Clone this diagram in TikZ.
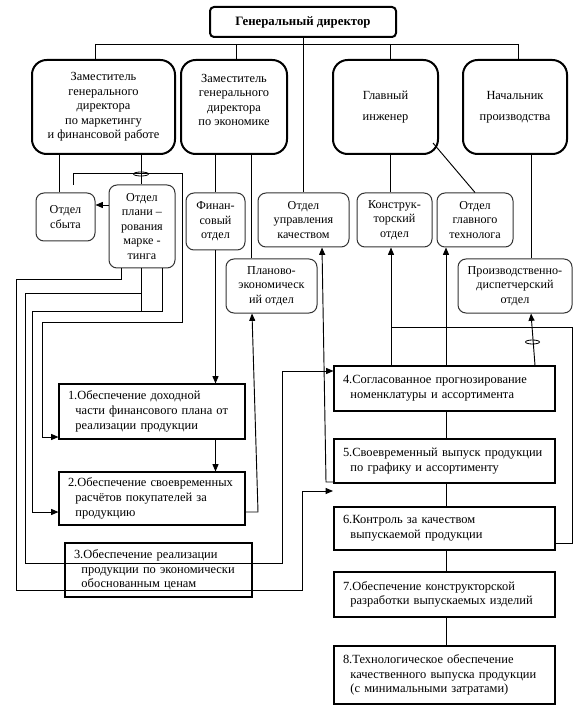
\documentclass[tikz,border=0pt]{standalone}
\usepackage{fontspec}
\setmainfont{Liberation Serif}
\usetikzlibrary{arrows.meta}
\tikzset{
  conn/.style={draw=black, line width=0.7pt},
  arr/.style={conn, -{Triangle[length=5.5pt,width=4.5pt]}},
  ceobox/.style={draw, line width=1.5pt, rounded corners=3pt, align=center, inner sep=0pt,
    font=\bfseries\fontsize{9.6}{11}\selectfont},
  topbox/.style={draw, line width=1.5pt, rounded corners=11pt, align=center, inner sep=0pt,
    font=\fontsize{9.3}{10.9}\selectfont},
  dept/.style={draw=black!80, line width=0.75pt, rounded corners=6pt, align=center, inner sep=0pt,
    font=\fontsize{9.1}{10.9}\selectfont},
  numbox/.style={draw, line width=0.8pt, align=left, inner xsep=6.75pt, inner ysep=0pt,
    font=\fontsize{9.35}{11}\selectfont},
  hop/.style={draw=black, line width=0.6pt},
}
% style, name, left, top, right, bottom, text  (pixel units)
\newcommand\placebox[7]{%
  \pgfmathsetmacro\myW{(#5-#3)*0.75}%
  \pgfmathsetmacro\myH{(#6-#4)*0.75}%
  \node[#1, minimum width=\myW pt, minimum height=\myH pt] (#2) at ({(#3+#5)/2},{(#4+#6)/2}) {#7};}
\newcommand\placenum[6]{%
  \pgfmathsetmacro\myW{(#4-#2)*0.75}%
  \pgfmathsetmacro\myH{(#5-#3)*0.75}%
  \pgfmathsetmacro\myT{(#4-#2)*0.75-13.5}%
  \node[numbox, minimum width=\myW pt, minimum height=\myH pt, text width=\myT pt] (#1) at ({(#2+#4)/2},{(#3+#5)/2}) {#6};}
\newcommand\ind{\hspace*{5.6pt}}
\begin{document}
\begin{tikzpicture}[x=0.75pt,y=-0.75pt]
\useasboundingbox (0,0) rectangle (580,712);

% ---------- nodes ----------
\placebox{ceobox}{ceo}{210}{7}{396}{37}{Генеральный директор}
\placebox{topbox}{dep1}{32}{60}{175}{154}{Заместитель\\генерального\\директора\\по маркетингу\\и финансовой работе}
\placebox{topbox}{dep2}{181}{60}{287}{154}{Заместитель\\генерального\\директора\\по экономике\\\mbox{}}
\placebox{topbox}{chief}{333}{60}{438}{154}{Главный\\[5pt]инженер}
\placebox{topbox}{prod}{463}{60}{567}{154}{Начальник\\[5pt]производства}

\placebox{dept}{sbyt}{36}{193}{95}{241}{Отдел\\сбыта}
\placebox{dept}{plan}{109}{185}{175}{268}{Отдел\\плани –\\рования\\марке -\\тинга}
\placebox{dept}{fin}{186}{193}{245}{250}{Финан-\\совый\\отдел}
\placebox{dept}{qual}{258}{193}{349}{247}{Отдел\\управления\\качеством}
\placebox{dept}{konst}{357}{193}{432}{247}{Конструк-\\торский\\отдел}
\placebox{dept}{tech}{437}{193}{513}{247}{Отдел\\главного\\технолога}
\placebox{dept}{planek}{226}{259}{317}{313}{Планово-\\экономическ\\ий отдел}
\placebox{dept}{disp}{458}{259}{572}{313}{Производственно-\\диспетчерский\\отдел}

\placenum{b1}{59}{384}{245}{439}{1.Обеспечение доходной\\\ind части финансового плана от\\\ind реализации продукции}
\placenum{b2}{59}{472}{245}{525}{2.Обеспечение своевременных\\\ind расчётов покупателей за\\\ind продукцию}
\placenum{b3}{65}{543}{252}{597}{3.Обеспечение реализации\\\ind продукции по экономически\\\ind обоснованным ценам}
\placenum{b4}{334}{366}{555}{411}{4.Согласованное прогнозирование\\\ind номенклатуры и ассортимента}
\placenum{b5}{334}{439}{555}{483}{5.Своевременный выпуск продукции\\\ind по графику и ассортименту}
\placenum{b6}{334}{507}{555}{550}{6.Контроль за качеством\\\ind выпускаемой продукции}
\placenum{b7}{334}{572}{555}{617}{7.Обеспечение конструкторской\\\ind разработки выпускаемых изделий}
\placenum{b8}{334}{646}{555}{704}{8.Технологическое обеспечение\\\ind качественного выпуска продукции\\\ind (с минимальными затратами)}

% ---------- top level ----------
\coordinate (busL) at (95,44);
\coordinate (busR) at (518,44);
\coordinate (bus2) at (236,44);
\coordinate (bus3) at (390,44);
\draw[conn] (busL) -- (busR);
\draw[conn] (busL) -- (busL |- dep1.north);
\draw[conn] (bus2) -- (bus2 |- dep2.north);
\draw[conn] (bus3) -- (bus3 |- chief.north);
\draw[conn] (busR) -- (busR |- prod.north);
\draw[conn] (ceo.south) -- (ceo.south |- qual.north);

% ---------- deputy 1 ----------
\draw[conn] (dep1.south -| 59,0) -- (sbyt.north -| 59,0);
\draw[conn] (dep1.south -| 141,0) -- (plan.north -| 141,0);
\draw[hop] (141,174) ellipse [x radius=7.5, y radius=2];
\draw[arr] (plan.west |- 0,205) -- (sbyt.east |- 0,205);

% loop from sales dept to box 1
\coordinate (t1) at (73,185);
\draw[arr] (t1) -- (73,173) -- (182,173) -- (182,322) -- (42,322) -- (42,437) -- (b1.west |- 0,437);
% planning dept lines
\draw[arr] (plan.south -| 121,0) -- (121,279) -- (16,279) -- (16,590) -- (302,590) -- (302,491) -- (333,491);
\draw[conn] (plan.south -| 141,0) -- (141,312);
\draw[arr] (141,293) -- (25,293) -- (25,563) -- (282,563) -- (282,371) -- (b4.west |- 0,371);
\draw[arr] (plan.south -| 162,0) -- (162,311) -- (32,311) -- (32,512) -- (b2.west |- 0,512);

% ---------- deputy 2 ----------
\draw[conn] (dep2.south -| fin.north) -- (fin.north);
\draw[conn] (dep2.south -| 251,0) -- (planek.north -| 251,0);
\draw[arr] (fin.south) -- (fin.south |- b1.north);
\draw[arr] (b1.south -| fin.south) -- (b2.north -| fin.south);
\draw[arr] (b2.east |- 0,512) -- (258,512) -- (planek.south -| 252,0);

% ---------- chief engineer & production ----------
\draw[conn] (chief.south -| 390,0) -- (konst.north -| 390,0);
\draw[conn] (433,143) -- (tech.north);
\draw[conn] (prod.south -| 531,0) -- (disp.north -| 531,0);

\draw[arr] (b4.north -| 391,0) -- (konst.south -| 391,0);
\draw[arr] (b4.north -| 446,0) -- (tech.south -| 446,0);
\draw[arr] (b4.north -| 535,0) -- (disp.south -| 531,0);
\draw[hop] (532.5,342) ellipse [x radius=7, y radius=2];
\draw[conn] (b6.east |- 0,543) -- (572,543) -- (572,327) -- (391,327);
\draw[arr] (b5.west |- 0,482) -- (326,482) -- (qual.south -| 322,0);

% ---------- chain of numbered boxes ----------
\draw[conn] (b4.south -| 446,0) -- (b5.north -| 446,0);
\draw[conn] (b5.south -| 446,0) -- (b6.north -| 446,0);
\draw[conn] (b6.south -| 446,0) -- (b7.north -| 446,0);
\draw[conn] (b7.south -| 446,0) -- (b8.north -| 446,0);
\end{tikzpicture}
\end{document}
